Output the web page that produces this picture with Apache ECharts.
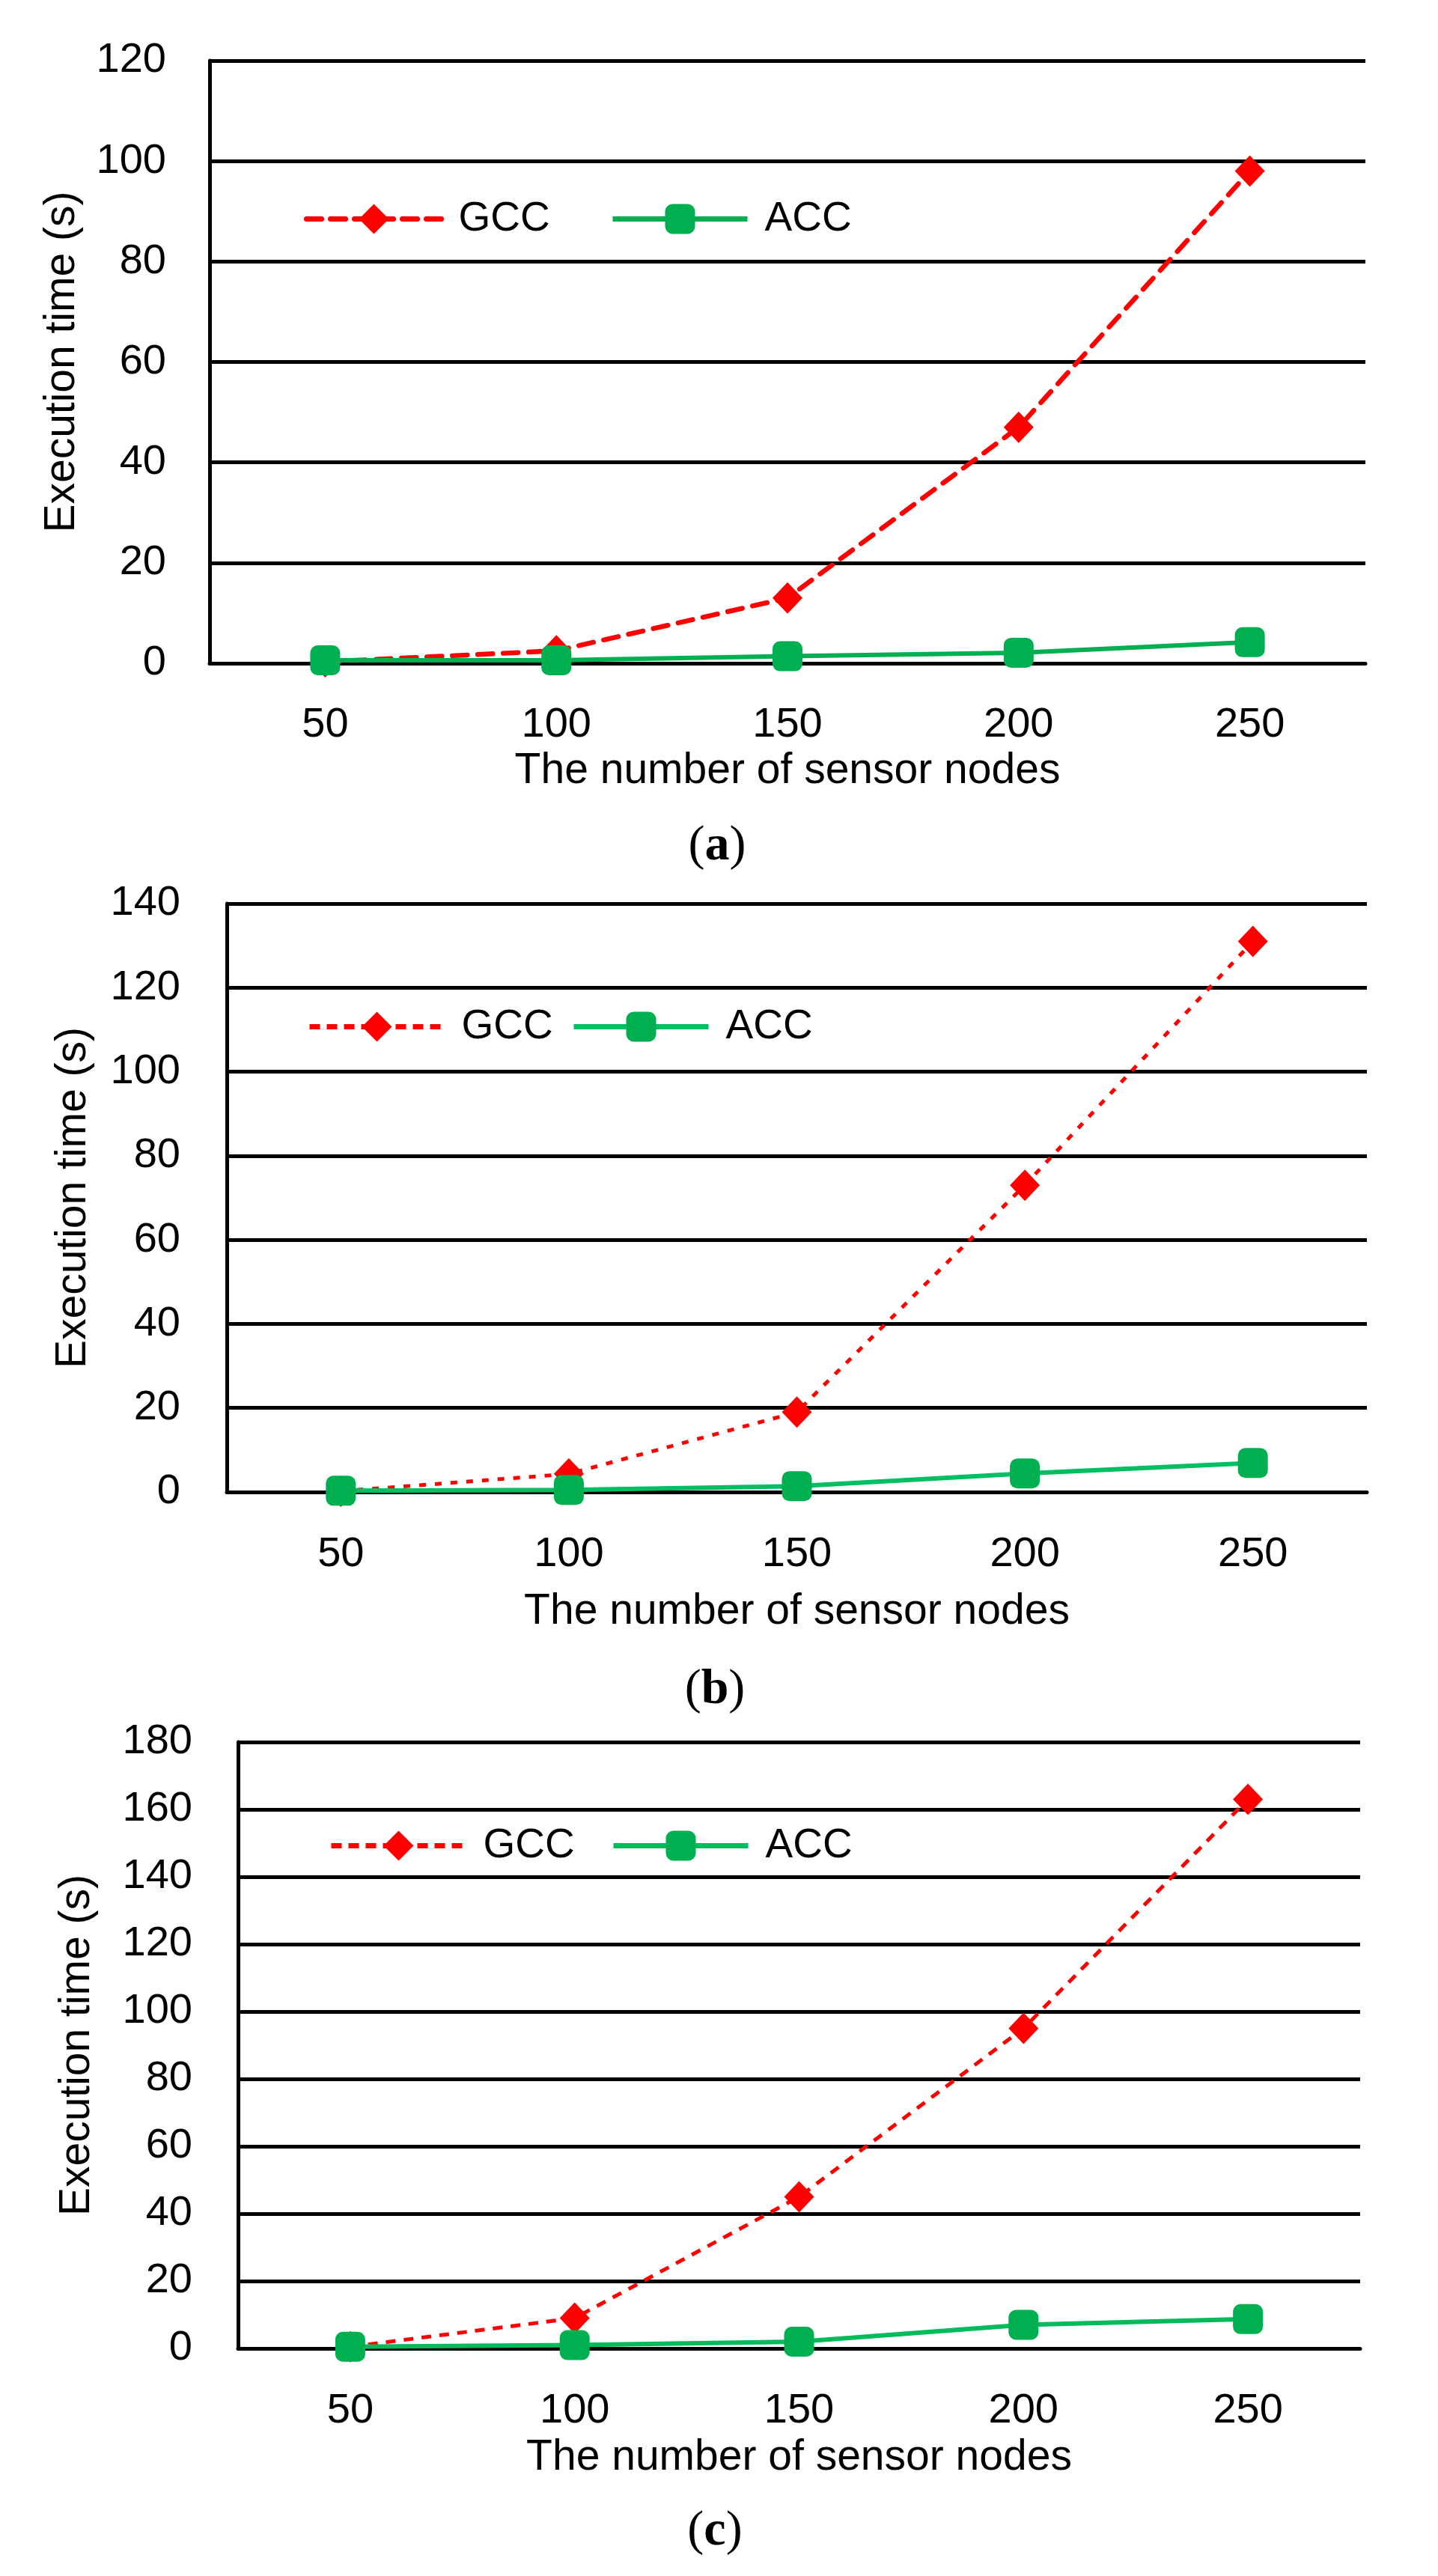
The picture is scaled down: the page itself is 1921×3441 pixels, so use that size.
<!DOCTYPE html>
<html>
<head>
<meta charset="utf-8">
<script src="https://cdn.jsdelivr.net/npm/echarts@6/dist/echarts.min.js"></script>
<style>
html,body{margin:0;padding:0;background:#fff;}
#chart{width:1921px;height:3441px;}
</style>
</head>
<body>
<div id="chart"></div>
<script>
// ---- data ----
const categories = ['50', '100', '150', '200', '250'];
const gccA = [0.3, 2.5, 13, 47, 98];
const accA = [0.6, 0.6, 1.4, 2.1, 4.2];
const gccB = [0.2, 4.3, 19, 73, 131];
const accB = [0.3, 0.5, 1.4, 4.4, 6.9];
const gccC = [0.5, 9, 45, 95, 163];
const accC = [0.5, 1.0, 2.0, 7.0, 8.7];
const yMaxA = 120, yMaxB = 140, yMaxC = 180;
const yInterval = 20;
const xName = 'The number of sensor nodes';
const yName = 'Execution time (s)';
const captions = ['a', 'b', 'c'];

const FONT = 'Liberation Sans';
const RED = '#FF0000';
const GREEN = '#00B050';

const panels = [
  {gcc: gccA, acc: accA, max: yMaxA, left: 280, right: 97, top: 81, height: 805,
   yLabelMargin: 58, yNameGap: 168, xLabelMargin: 55, xNameGap: 116,
   gccDash: [20, 14], gccWidth: 6.5, legendGccDash: [20, 12], legendGccWidth: 7,
   accColorLine: GREEN,
   legendTop: 265, legendGcc: 406, legendAcc: 815, cap: {x: 958, y: 1131}},
  {gcc: gccB, acc: accB, max: yMaxB, left: 303, right: 95, top: 1207, height: 786,
   yLabelMargin: 62, yNameGap: 176, xLabelMargin: 56, xNameGap: 132,
   gccDash: [9, 12], gccWidth: 5, legendGccDash: [14, 9], legendGccWidth: 7,
   accColorLine: '#00BF63',
   legendTop: 1344, legendGcc: 410, legendAcc: 763, cap: {x: 955, y: 2258}},
  {gcc: gccC, acc: accC, max: yMaxC, left: 318, right: 104, top: 2327, height: 810,
   yLabelMargin: 61, yNameGap: 186, xLabelMargin: 56, xNameGap: 118,
   gccDash: [13, 11], gccWidth: 5, legendGccDash: [14, 9], legendGccWidth: 7,
   accColorLine: '#00BA5C',
   legendTop: 2438, legendGcc: 439, legendAcc: 816, cap: {x: 955, y: 3382}}
];

const grid = [], xAxis = [], yAxis = [], series = [], legend = [], graphic = [];

panels.forEach((p, i) => {
  grid.push({left: p.left, right: p.right, top: p.top, height: p.height, containLabel: false});
  xAxis.push({
    type: 'category', gridIndex: i, data: categories, boundaryGap: true,
    axisLine: {show: true, lineStyle: {color: '#000', width: 5}},
    axisTick: {show: false},
    axisLabel: {color: '#000', fontFamily: FONT, fontSize: 56, margin: p.xLabelMargin},
    name: xName, nameLocation: 'middle', nameGap: p.xNameGap,
    nameTextStyle: {color: '#000', fontFamily: FONT, fontSize: 57}
  });
  yAxis.push({
    type: 'value', gridIndex: i, min: 0, max: p.max, interval: yInterval,
    axisLine: {show: true, lineStyle: {color: '#000', width: 5}},
    axisTick: {show: false},
    splitLine: {show: true, lineStyle: {color: '#000', width: 5}},
    axisLabel: {color: '#000', fontFamily: FONT, fontSize: 56, margin: p.yLabelMargin},
    name: yName, nameLocation: 'middle', nameGap: p.yNameGap, nameRotate: 90,
    nameTextStyle: {color: '#000', fontFamily: FONT, fontSize: 57}
  });
  series.push({
    name: 'GCC', type: 'line', xAxisIndex: i, yAxisIndex: i, data: p.gcc,
    symbol: 'diamond', symbolSize: [40, 42],
    itemStyle: {color: RED},
    lineStyle: {color: RED, width: p.gccWidth, type: p.gccDash, cap: i === 0 ? 'round' : 'butt'},
    animation: false, z: 3
  });
  series.push({
    name: 'ACC', type: 'line', xAxisIndex: i, yAxisIndex: i, data: p.acc,
    symbol: 'roundRect', symbolSize: 40,
    itemStyle: {color: GREEN},
    lineStyle: {color: p.accColorLine, width: 6},
    animation: false, z: 4
  });
  const legendBase = {
    orient: 'horizontal', top: p.legendTop, padding: 0,
    itemWidth: 180, itemHeight: 50, selectedMode: false,
    textStyle: {color: '#000', fontFamily: FONT, fontSize: 55, padding: [0, 0, 0, 18]}
  };
  legend.push(Object.assign({}, legendBase, {
    left: p.legendGcc,
    data: [{name: 'GCC', itemStyle: {color: RED},
      lineStyle: {color: RED, width: p.legendGccWidth, type: p.legendGccDash, cap: i === 0 ? 'round' : 'butt'}}]
  }));
  legend.push(Object.assign({}, legendBase, {
    left: p.legendAcc,
    data: [{name: 'ACC', itemStyle: {color: GREEN}, lineStyle: {color: p.accColorLine, width: 7}}]
  }));
  graphic.push({
    type: 'text', x: p.cap.x, y: p.cap.y,
    style: {
      text: '(' + '{b|' + captions[i] + '})',
      rich: {b: {fontWeight: 'bold', fontFamily: 'Liberation Serif', fontSize: 66, fill: '#000'}},
      font: '66px "Liberation Serif"', fill: '#000',
      align: 'center', verticalAlign: 'middle'
    }
  });
});

const chart = echarts.init(document.getElementById('chart'));
chart.setOption({
  backgroundColor: '#fff',
  animation: false,
  grid, xAxis, yAxis, series, legend, graphic
});
</script>
</body>
</html>
